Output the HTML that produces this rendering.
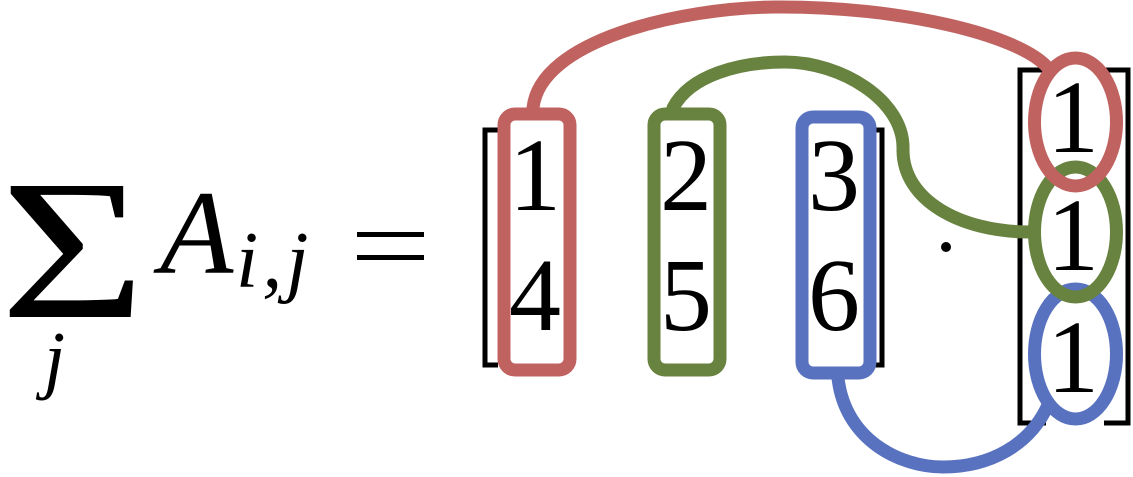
<!DOCTYPE html>
<html><head><meta charset="utf-8"><style>
html,body{margin:0;padding:0;background:#fff;}
svg{display:block;}
</style></head><body>
<svg width="1133" height="477" viewBox="0 0 1133 477" xmlns="http://www.w3.org/2000/svg">
<g font-family="'Liberation Serif', serif" fill="#000">
  <text x="0" y="317" font-size="200" font-weight="normal" transform="scale(1.25,1)">Σ</text>
  <text x="160" y="273" font-size="120" font-style="italic">A</text>
  <text x="236" y="287" font-size="80" font-style="italic" letter-spacing="4">i,j</text>
  <text x="44" y="384" font-size="76" font-style="italic">j</text>
  <rect x="357" y="232" width="67" height="5"/>
  <rect x="357" y="255" width="67" height="5"/>
  <g font-size="104" text-anchor="middle">
    <text x="535" y="210">1</text><text x="535" y="330">4</text>
    <text x="686" y="210">2</text><text x="686" y="330">5</text>
    <text x="834" y="210">3</text><text x="834" y="330">6</text>
    <text x="1073" y="152">1</text><text x="1073" y="270">1</text><text x="1073" y="392">1</text>
  </g>
  <circle cx="946" cy="247" r="5"/>
</g>
<g fill="none" stroke="#000" stroke-width="5">
  <path d="M498,130 H485 V365 H498"/>
  <path d="M868,130 H882 V365 H868"/>
  <path d="M1046,70 H1020 V423 H1046"/>
  <path d="M1104,70 H1128 V423 H1104"/>
</g>
<g fill="none" stroke-width="13" stroke-linecap="round">
  <path d="M533,108 C540,40 680,8 775,7 C900,6 1020,35 1048,68" stroke="#c06360"/>
  <path d="M673,108 C690,75 740,62 785,62 C840,62 905,100 903,150 C903,200 960,232 1030,232" stroke="#68823f"/>
  <path d="M838,378 C845,440 900,467 943,467 C990,467 1030,445 1048,405" stroke="#5872c0"/>
  <rect x="504" y="114" width="66" height="256" rx="11" stroke="#c06360"/>
  <rect x="654" y="114" width="66" height="256" rx="11" stroke="#68823f"/>
  <rect x="802" y="117" width="68" height="256" rx="11" stroke="#5872c0"/>
  <ellipse cx="1075.5" cy="354" rx="41" ry="65" stroke="#5872c0"/>
  <ellipse cx="1075.5" cy="232" rx="41" ry="65" stroke="#68823f"/>
  <ellipse cx="1075.5" cy="122" rx="41" ry="64" stroke="#c06360"/>
</g>
</svg>
</body></html>
